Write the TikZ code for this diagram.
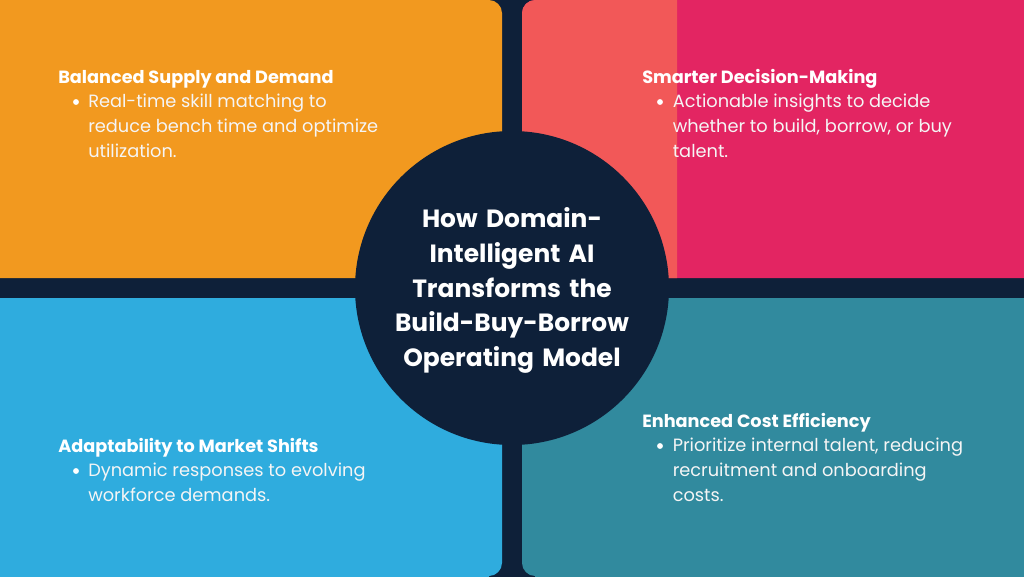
\documentclass[tikz,border=0pt]{standalone}
\usepackage{fontspec}
\setmainfont{Poppins}
\newfontfamily\titlefont[WordSpace=0.75]{Poppins}
\definecolor{navy}{HTML}{0E2039}
\definecolor{amber}{HTML}{F2991F}
\definecolor{rosepink}{HTML}{E32562}
\definecolor{coral}{HTML}{F25858}
\definecolor{skyb}{HTML}{2FACDE}
\definecolor{tealb}{HTML}{318A9E}
\tikzset{
  x=0.75pt,y=-0.75pt,
  head/.style={anchor=base west,inner sep=0pt,text=white,font=\fontsize{13.27pt}{18pt}\selectfont\bfseries},
  body/.style={anchor=base west,inner sep=0pt,text=white!96!black,align=left,font=\fontsize{13.33pt}{18.4pt}\selectfont},
  dotb/.style={circle,fill=white,draw=none,minimum size=4.4pt,inner sep=0pt},
  titletext/.style={align=center,inner sep=0pt,text=white,text width=300pt,font=\titlefont\fontsize{18.7pt}{26.1pt}\selectfont\bfseries}
}
\begin{document}
\begin{tikzpicture}
\useasboundingbox (0,0) rectangle (1024,576);
\fill[navy] (-5,-5) rectangle (1029,581);
% panels
\fill[amber] (-5,-5) -- (489,-5) -- (489,0) .. controls (496,0) and (502,6) .. (502,13) -- (502,278) -- (-5,278) -- cycle;
\fill[rosepink] (1029,-5) -- (535,-5) -- (535,0) .. controls (528,0) and (522,6) .. (522,13) -- (522,278) -- (1029,278) -- cycle;
\fill[coral] (677,-5) -- (535,-5) -- (535,0) .. controls (528,0) and (522,6) .. (522,13) -- (522,278) -- (677,278) -- cycle;
\fill[skyb] (-5,581) -- (489,581) -- (489,576) .. controls (496,576) and (502,570) .. (502,563) -- (502,298) -- (-5,298) -- cycle;
\fill[tealb] (1029,581) -- (535,581) -- (535,576) .. controls (528,576) and (522,570) .. (522,563) -- (522,298) -- (1029,298) -- cycle;
\node[circle,fill=navy,draw=none,minimum size=235.5pt,inner sep=0pt] (hub) at (512,288) {};
\node[titletext] (title) at (512,290.5) {How Domain-\\Intelligent AI\\Transforms the\\Build-Buy-Borrow\\Operating Model};

\node[head] (h1) at (58,83) {Balanced Supply and Demand};
\node[dotb] (d1) at (76,102) {};
\node[body] (b1) at (88,157) {Real-time skill matching to\\reduce bench time and optimize\\utilization.};

\node[head] (h2) at (642,83) {Smarter Decision-Making};
\node[dotb] (d2) at (660,102) {};
\node[body] (b2) at (672.5,157) {Actionable insights to decide\\whether to build, borrow, or buy\\talent.};

\node[head] (h3) at (58,452) {Adaptability to Market Shifts};
\node[dotb] (d3) at (76,471) {};
\node[body] (b3) at (88,501) {Dynamic responses to evolving\\workforce demands.};

\node[head] (h4) at (642,427) {Enhanced Cost Efficiency};
\node[dotb] (d4) at (660,446) {};
\node[body] (b4) at (672.5,501) {Prioritize internal talent, reducing\\recruitment and onboarding\\costs.};
\end{tikzpicture}
\end{document}
